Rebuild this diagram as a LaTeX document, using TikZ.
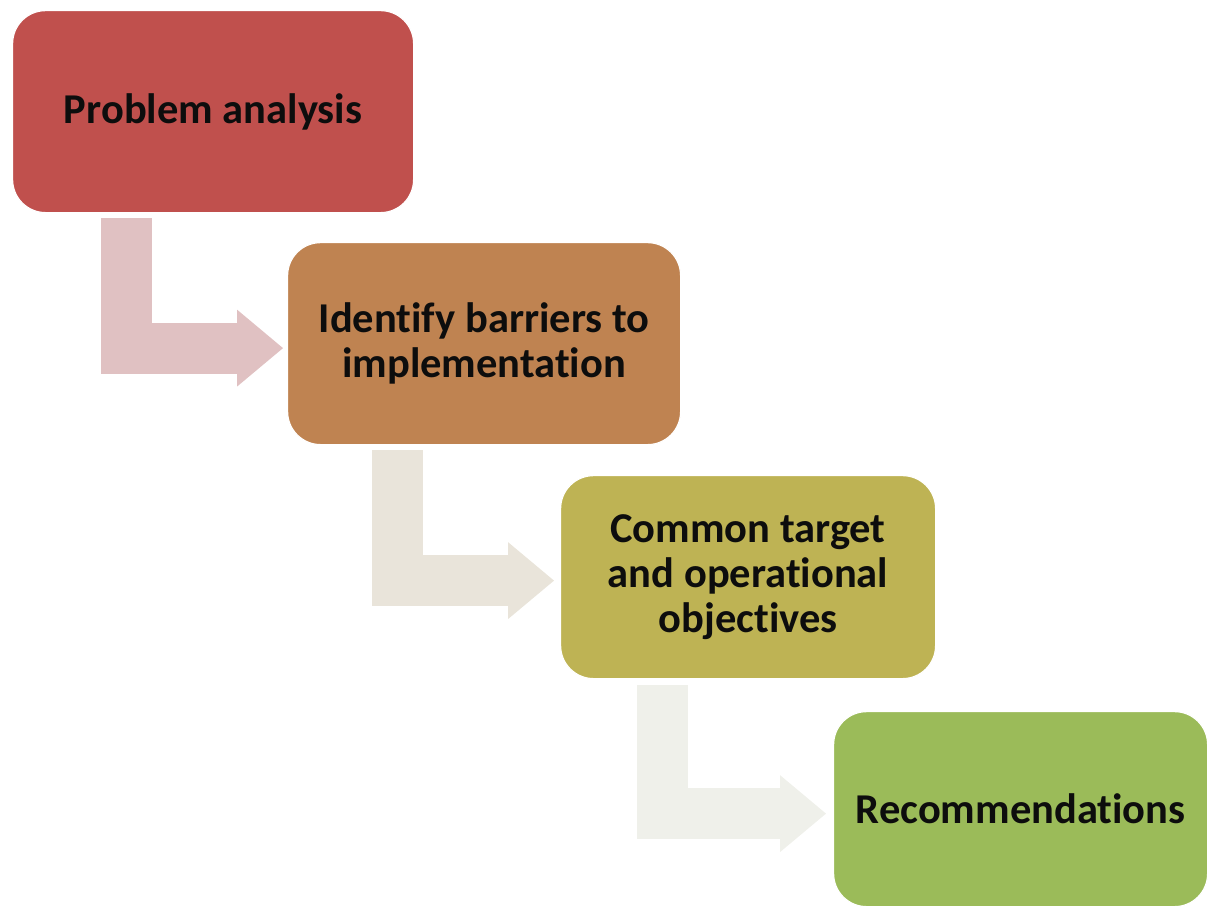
\documentclass[tikz,border=0pt]{standalone}
\usepackage{fontspec}
\setmainfont{Carlito}[Ligatures=NoCommon]
\usetikzlibrary{arrows.meta}
\definecolor{cA}{RGB}{192,80,77}
\definecolor{cB}{RGB}{191,131,81}
\definecolor{cC}{RGB}{190,179,84}
\definecolor{cD}{RGB}{155,187,89}
\definecolor{aA}{RGB}{224,193,194}
\definecolor{aB}{RGB}{233,228,218}
\definecolor{aC}{RGB}{239,240,234}
\definecolor{txt}{RGB}{13,13,13}
\tikzset{
  stepbox/.style={rectangle, rounded corners=16.5pt, draw=white, line width=0.6pt,
    anchor=north west, align=center, inner sep=0pt, text=txt,
    font=\fontsize{21.25}{22.5}\selectfont\bfseries},
  bent/.style={line width=25.5pt, line join=miter, line cap=butt,
    -{Triangle[length=23pt, width=38.5pt, line width=0pt]}}
}
\begin{document}
\begin{tikzpicture}[x=0.5pt, y=-0.5pt]
\useasboundingbox (0,0) rectangle (1208,907);
\node[stepbox, fill=cA, minimum width=200.5pt, minimum height=101pt] (b1) at (12,10) {Problem analysis};
\node[stepbox, fill=cB, minimum width=196.5pt, minimum height=101pt] (b2) at (287,242) {Identify barriers to\\implementation};
\node[stepbox, fill=cC, minimum width=187.5pt, minimum height=101.5pt] (b3) at (560,475) {Common target\\and operational\\objectives};
\node[stepbox, fill=cD, minimum width=187pt, minimum height=97.5pt] (b4) at (833,711) {Recommendations};
\draw[bent, draw=aA] ([xshift=57.25pt, yshift=-2.5pt]b1.south west) |- ([xshift=-2pt, yshift=-2.25pt]b2.west);
\draw[bent, draw=aB] ([xshift=55.25pt, yshift=-2.5pt]b2.south west) |- ([xshift=-3pt, yshift=-1.75pt]b3.west);
\draw[bent, draw=aC] ([xshift=51.25pt, yshift=-3pt]b3.south west) |- ([xshift=-3.5pt, yshift=-2.25pt]b4.west);
\end{tikzpicture}
\end{document}
